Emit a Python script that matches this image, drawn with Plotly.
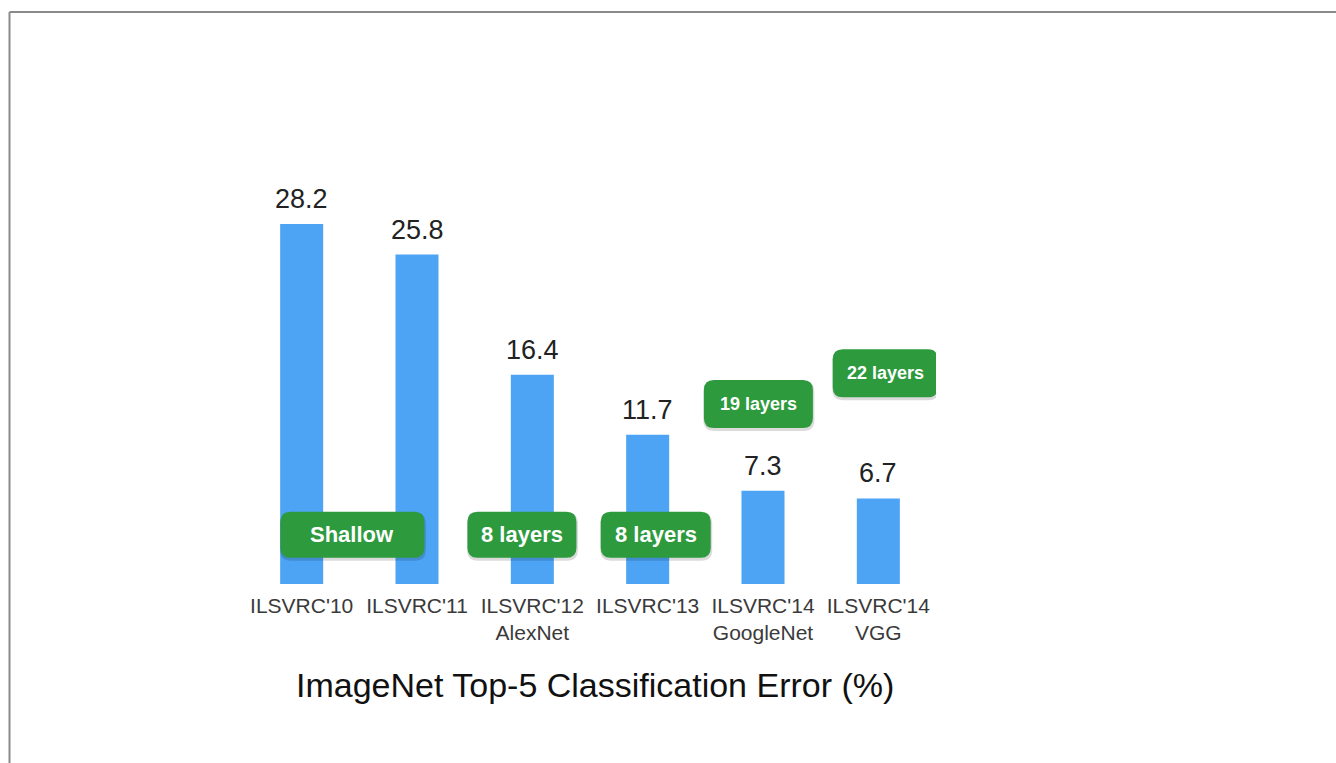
import plotly.graph_objects as go

# Competition entries and their top-5 error rates
categories = ["ILSVRC'10", "ILSVRC'11", "ILSVRC'12", "ILSVRC'13", "ILSVRC'14", "ILSVRC'14"]
models = ["", "", "AlexNet", "", "GoogleNet", "VGG"]
top5_error = [28.2, 25.8, 16.4, 11.7, 7.3, 6.7]

# Network depth badges
depth_labels = ["Shallow", "8 layers", "8 layers", "19 layers", "22 layers"]

# Badge placement: x in category units, y in error units, size in px, font px
badge_layout = [
    (0.44, 3.85, 144, 46, 22),
    (1.91, 3.85, 109, 46, 22),
    (3.07, 3.85, 110, 46, 22),
    (3.96, 14.1, 109, 48, 18),
    (5.06, 16.5, 105, 48, 18),
]

W, H = 1336, 763
ML, MR, MT, MB = 244, 400, 201, 179
PW, PH = W - ML - MR, H - MT - MB

FONT = "Liberation Sans, Arial, Helvetica, sans-serif"
BLUE = "#4da4f5"
GREEN = "#2d9a3e"


def px_x(p):
    return (p - ML) / PW


def px_y(p):
    return (H - MB - p) / PH


def rounded_rect(w, h, r, dx=0.0, dy=0.0):
    x0, x1 = -w / 2 + dx, w / 2 + dx
    y0, y1 = -h / 2 + dy, h / 2 + dy
    return (
        f"M{x0 + r},{y0} L{x1 - r},{y0} Q{x1},{y0} {x1},{y0 + r} "
        f"L{x1},{y1 - r} Q{x1},{y1} {x1 - r},{y1} L{x0 + r},{y1} "
        f"Q{x0},{y1} {x0},{y1 - r} L{x0},{y0 + r} Q{x0},{y0} {x0 + r},{y0} Z"
    )


tick_text = [c + ("<br>" + m if m else "") for c, m in zip(categories, models)]
xs = list(range(len(categories)))

fig = go.Figure(
    go.Bar(
        x=xs,
        y=top5_error,
        width=0.373,
        marker=dict(color=BLUE, line=dict(width=0)),
        hoverinfo="skip",
    )
)

annotations = []
for x, v in zip(xs, top5_error):
    annotations.append(dict(
        x=x, y=v, xref="x", yref="y", text=f"{v}", showarrow=False,
        yanchor="bottom", yshift=8,
        font=dict(family=FONT, size=27, color="#222222"),
    ))

shapes = []
for label, (bx, by, bw, bh, fs) in zip(depth_labels, badge_layout):
    # soft drop shadow
    shapes.append(dict(
        type="path", xref="x", yref="y", xsizemode="pixel", ysizemode="pixel",
        xanchor=bx, yanchor=by, path=rounded_rect(bw + 2, bh + 2, 11, 0.5, -2),
        fillcolor="rgba(0,0,0,0.14)", line=dict(width=0), layer="above",
    ))
    shapes.append(dict(
        type="path", xref="x", yref="y", xsizemode="pixel", ysizemode="pixel",
        xanchor=bx, yanchor=by, path=rounded_rect(bw, bh, 10),
        fillcolor=GREEN, line=dict(width=0), layer="above",
    ))
    annotations.append(dict(
        x=bx, y=by, xref="x", yref="y", text=f"<b>{label}</b>", showarrow=False,
        font=dict(family=FONT, size=fs, color="white"),
    ))

# Chart caption
annotations.append(dict(
    x=px_x(595), y=px_y(685), xref="paper", yref="paper",
    text="ImageNet Top-5 Classification Error (%)", showarrow=False,
    xanchor="center", yanchor="middle",
    font=dict(family=FONT, size=34, color="#111111"),
))

# Slide frame
frame = dict(color="#8a8a8a", width=2)
shapes.append(dict(type="line", xref="paper", yref="paper",
                   x0=px_x(9.5), y0=px_y(12), x1=px_x(W), y1=px_y(12), line=frame))
shapes.append(dict(type="line", xref="paper", yref="paper",
                   x0=px_x(9.5), y0=px_y(12), x1=px_x(9.5), y1=px_y(H), line=frame))

fig.update_layout(
    width=W, height=H,
    margin=dict(l=ML, r=MR, t=MT, b=MB, pad=0),
    paper_bgcolor="white", plot_bgcolor="white",
    showlegend=False,
    xaxis=dict(
        range=[-0.5, 5.5], tickvals=xs, ticktext=tick_text,
        showgrid=False, zeroline=False, showline=False, ticks="",
        ticklabelstandoff=7,
        tickfont=dict(family=FONT, size=21, color="#3a3a3a"),
        fixedrange=True,
    ),
    yaxis=dict(range=[0, 30], visible=False, fixedrange=True),
    annotations=annotations,
    shapes=shapes,
)

fig.write_html("out.html", config={"displayModeBar": False})
